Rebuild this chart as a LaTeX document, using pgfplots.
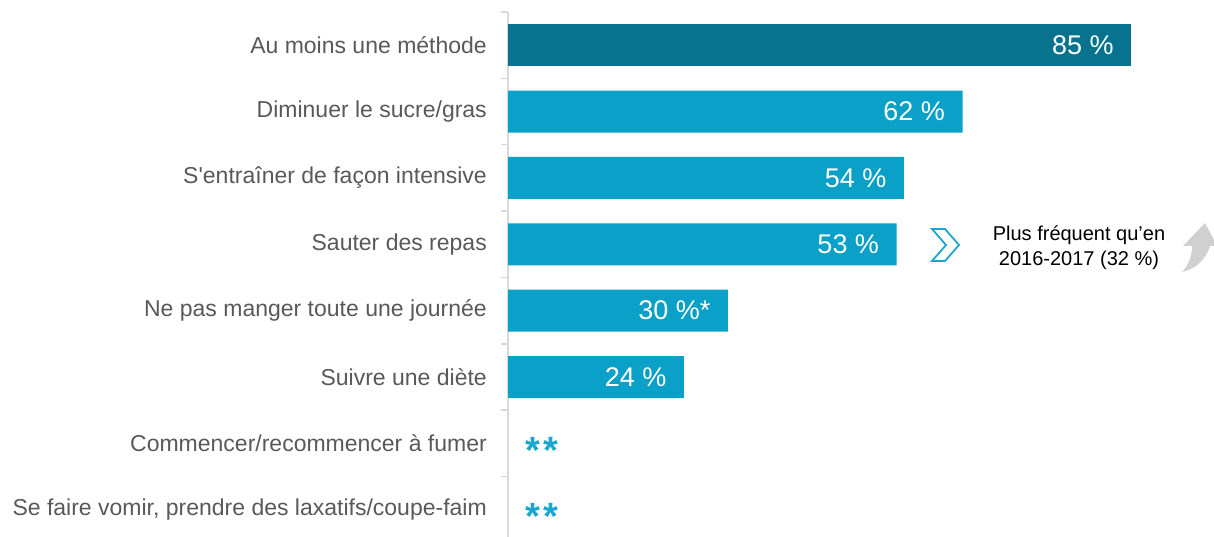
\documentclass[border=0pt]{standalone}
\usepackage{pgfplots}
\pgfplotsset{compat=1.18}
\usepackage{fontspec}
\setmainfont{Liberation Sans}
\definecolor{darkbar}{HTML}{08738F}
\definecolor{mainbar}{HTML}{0BA0C8}
\definecolor{lab}{HTML}{595959}
\definecolor{axisgrey}{HTML}{D9D9D9}
\definecolor{starc}{HTML}{1BA6CF}
\definecolor{arrowgrey}{HTML}{D0D0D0}
\begin{document}
\begin{tikzpicture}
\path[use as bounding box] (0,0) rectangle (1214pt,537pt);
\begin{axis}[
  at={(508pt,0pt)}, anchor=south west,
  scale only axis, width=706pt, height=525pt,
  xmin=0, xmax=96.3, ymin=-0.41, ymax=7.5,
  axis x line=none, axis y line*=left,
  axis line style={draw=axisgrey, line width=1.5pt},
  clip=false,
  ytick={0,...,7},
  yticklabels={{Se faire vomir, prendre des laxatifs/coupe-faim},{Commencer/recommencer à fumer},{Suivre une diète},{Ne pas manger toute une journée},{Sauter des repas},{S\textquotesingle entraîner de façon intensive},{Diminuer le sucre/gras},{Au moins une méthode}},
  y tick label style={font=\fontsize{23}{24}\selectfont, text=lab, inner sep=0pt, xshift=-21pt},
  major tick length=0pt,
  extra y ticks={-0.5,0.5,...,7.5},
  extra y tick labels={},
  extra y tick style={major tick length=7pt, tick align=outside, tick style={draw=axisgrey, line width=1.5pt}},
]
\addplot[xbar, bar width=42pt, bar shift=0pt, fill=darkbar, draw=none,
  nodes near coords, point meta=explicit symbolic,
  every node near coord/.append style={anchor=east, text=white, font=\fontsize{27}{28}\selectfont, xshift=-14pt}]
  coordinates {(85,7) [85 \%]};
\addplot[xbar, bar width=42pt, bar shift=0pt, fill=mainbar, draw=none,
  nodes near coords, point meta=explicit symbolic,
  every node near coord/.append style={anchor=east, text=white, font=\fontsize{27}{28}\selectfont, xshift=-14pt}]
  coordinates {(62,6) [62 \%] (54,5) [54 \%] (53,4) [53 \%] (30,3) [30 \%*] (24,2) [24 \%]};
\addplot[draw=none, mark=none,
  nodes near coords, point meta=explicit symbolic,
  every node near coord/.append style={anchor=west, text=starc, font=\bfseries\fontsize{38}{38}\selectfont, xshift=14pt, yshift=-7pt}]
  coordinates {(0,1) [*\kern3pt*] (0,0) [*\kern3pt*]};
\end{axis}
% chevron
\draw[starc, line width=1.8pt, line join=miter] (932pt,308pt) -- (945pt,308pt) -- (959pt,292pt) -- (945pt,276pt) -- (932pt,276pt) -- (946pt,292pt) -- cycle;
\node[align=center, font=\fontsize{20}{25}\selectfont, text=black] at (1079pt,289pt) {Plus fréquent qu’en\\2016-2017 (32 \%)};
% grey arrow
\fill[arrowgrey] (1182pt,265pt) .. controls (1189pt,272pt) and (1192pt,282pt) .. (1192pt,291pt) -- (1183pt,291pt) -- (1205pt,314pt) -- (1214pt,297pt) -- (1214pt,291pt) -- (1210pt,291pt) .. controls (1206pt,278pt) and (1196pt,268pt) .. (1182pt,265pt) -- cycle;
\end{tikzpicture}
\end{document}
